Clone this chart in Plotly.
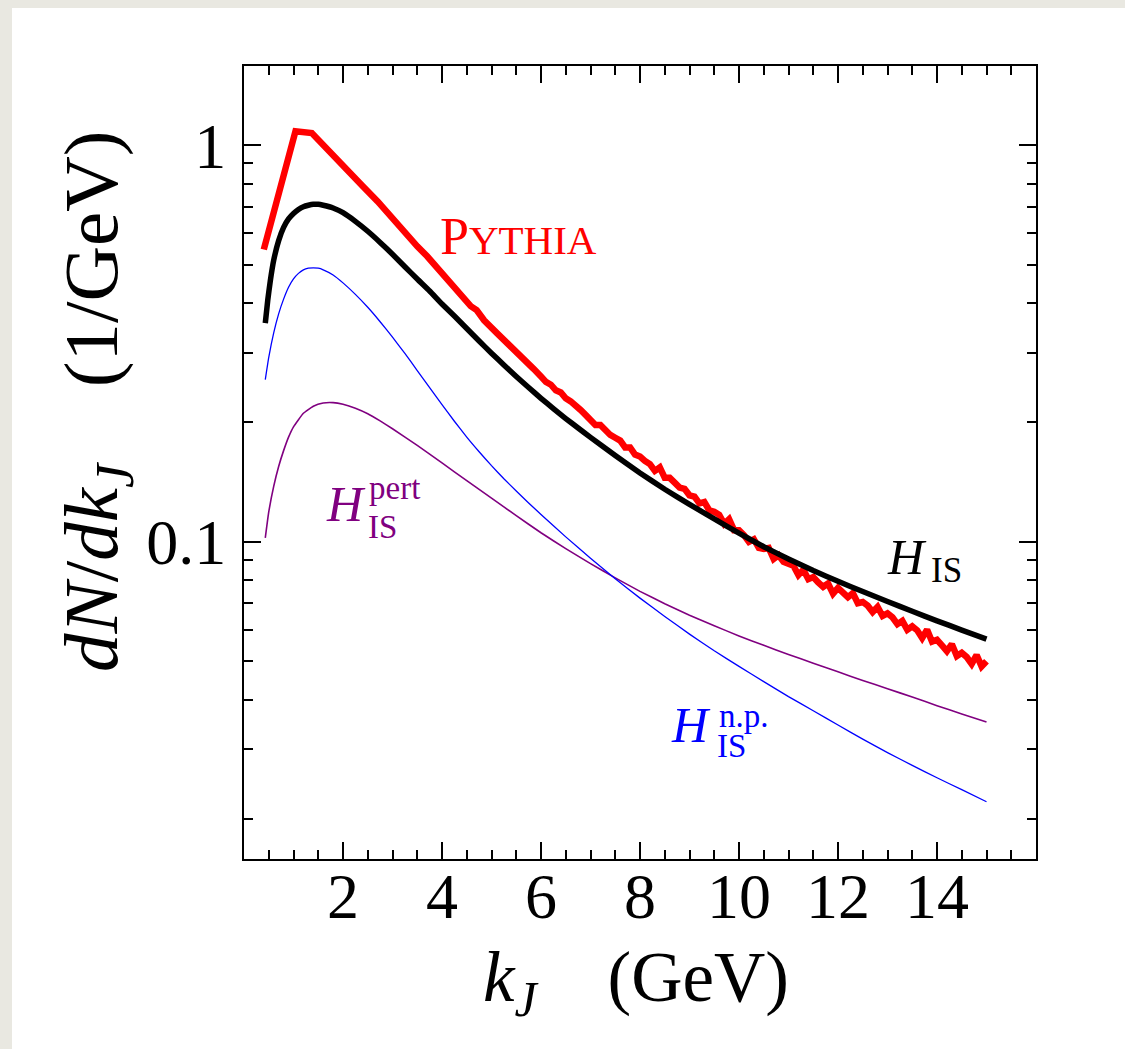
import plotly.graph_objects as go

# ---------------- data ----------------
pythia_x = [0.40, 1.04, 1.37, 1.60, 2.00, 2.40, 2.70, 2.96, 3.20, 3.50, 3.70, 3.80, 4.04, 4.30,
            4.58, 4.70, 4.85, 5.11, 5.40, 5.65, 5.85,
            6.0, 6.1, 6.2, 6.3, 6.4, 6.5, 6.6, 6.7, 6.8, 6.9, 7.0, 7.1, 7.2, 7.3, 7.4, 7.5, 7.6, 7.7,
            7.8, 7.9, 8.0, 8.1, 8.2, 8.3, 8.4, 8.5, 8.6, 8.7, 8.8, 8.9, 9.0, 9.1, 9.2, 9.3, 9.4,
            9.5, 9.6, 9.7, 9.8, 9.9, 10.0, 10.1, 10.2, 10.3, 10.4, 10.5, 10.6, 10.7, 10.8, 10.9,
            11.0, 11.1, 11.2, 11.3, 11.4, 11.5, 11.6, 11.7, 11.8, 11.9, 12.0, 12.1, 12.2, 12.3,
            12.4, 12.5, 12.6, 12.7, 12.8, 12.9, 13.0, 13.1, 13.2, 13.3, 13.4, 13.5, 13.6, 13.7,
            13.8, 13.9, 14.0, 14.1, 14.2, 14.3, 14.4, 14.5, 14.6, 14.7, 14.8, 14.9, 15.0]
pythia_y = [0.546, 1.085, 1.074, 1.000, 0.894, 0.788, 0.722, 0.662, 0.615, 0.556, 0.525, 0.508,
            0.467, 0.432, 0.393, 0.384, 0.362, 0.336, 0.311, 0.288, 0.273,
            0.261, 0.253, 0.249, 0.241, 0.238, 0.230, 0.226, 0.219, 0.215, 0.209, 0.204, 0.197,
            0.197, 0.190, 0.186, 0.183, 0.180, 0.173, 0.173, 0.166, 0.164, 0.160, 0.157, 0.151,
            0.154, 0.145, 0.145, 0.141, 0.137, 0.136, 0.131, 0.130, 0.125, 0.126, 0.120, 0.119,
            0.117, 0.111, 0.114, 0.107, 0.107, 0.104, 0.100, 0.1015, 0.0965, 0.0960, 0.0965,
            0.0905, 0.0925, 0.0890, 0.0880, 0.0870, 0.0825, 0.0850, 0.0805, 0.0815, 0.0790,
            0.0770, 0.0785, 0.0740, 0.0765, 0.0740, 0.0725, 0.0742, 0.0700, 0.0705, 0.0690,
            0.0665, 0.0685, 0.0650, 0.0660, 0.0645, 0.0620, 0.0632, 0.0600, 0.0612, 0.0598,
            0.0572, 0.0600, 0.0560, 0.0566, 0.0548, 0.0530, 0.0552, 0.0515, 0.0525, 0.0512,
            0.0492, 0.0518, 0.0485, 0.0500]

his_x = [0.43, 0.48, 0.53, 0.6, 0.7, 0.8, 0.9, 1.0, 1.1, 1.2, 1.3, 1.4, 1.5, 1.6, 1.8, 2.0,
         2.25, 2.5, 2.75, 3.0, 3.25, 3.5, 3.75, 4.0, 4.25, 4.5, 4.75, 5.0, 5.25, 5.5, 5.75, 6.0,
         6.25, 6.5, 6.75, 7.0, 7.5, 8.0, 8.5, 9.0, 9.5, 10.0, 10.5, 11.0, 11.5, 12.0, 12.5,
         13.0, 13.5, 14.0, 14.5, 15.0]
his_y = [0.356, 0.407, 0.454, 0.513, 0.575, 0.621, 0.652, 0.673, 0.689, 0.700, 0.706, 0.710,
         0.710, 0.706, 0.695, 0.676, 0.643, 0.607, 0.569, 0.531, 0.494, 0.460, 0.429, 0.398,
         0.371, 0.345, 0.321, 0.299, 0.2793, 0.2612, 0.2449, 0.2301, 0.2168, 0.2046, 0.1936,
         0.1834, 0.1650, 0.1491, 0.1357, 0.1243, 0.1142, 0.1051, 0.0972, 0.0905, 0.0846,
         0.0795, 0.0749, 0.0707, 0.0668, 0.0632, 0.0599, 0.0568]

np_x = [0.43, 0.5, 0.6, 0.7, 0.8, 0.9, 1.0, 1.1, 1.2, 1.3, 1.4, 1.5, 1.6, 1.8, 2.0, 2.25, 2.5,
        2.75, 3.0, 3.25, 3.5, 3.75, 4.0, 4.25, 4.5, 4.75, 5.0, 5.25, 5.5, 5.75, 6.0, 6.5, 7.0,
        7.5, 8.0, 8.5, 9.0, 9.5, 10.0, 10.5, 11.0, 11.5, 12.0, 12.5, 13.0, 13.5, 14.0, 14.5, 15.0]
np_y = [0.2564, 0.2917, 0.3365, 0.3758, 0.4093, 0.4385, 0.4603, 0.4753, 0.4853, 0.4898, 0.4909,
        0.4898, 0.4853, 0.4710, 0.4498, 0.4207, 0.3904, 0.3589, 0.3281, 0.2985, 0.2704, 0.2449,
        0.2218, 0.2014, 0.1837, 0.1687, 0.1556, 0.1442, 0.1343, 0.1253, 0.1172, 0.1029, 0.0909,
        0.0807, 0.0721, 0.0648, 0.0585, 0.0531, 0.0485, 0.0444, 0.0407, 0.0375, 0.0345, 0.0318,
        0.0294, 0.0273, 0.0254, 0.0237, 0.0221]

pert_x = [0.43, 0.5, 0.6, 0.7, 0.8, 0.9, 1.0, 1.2, 1.4, 1.6, 1.8, 2.0, 2.25, 2.5, 2.75, 3.0, 3.5,
          4.0, 4.5, 5.0, 5.5, 6.0, 6.5, 7.0, 7.5, 8.0, 8.5, 9.0, 9.5, 10.0, 10.5, 11.0, 11.5,
          12.0, 12.5, 13.0, 13.5, 14.0, 14.5, 15.0]
pert_y = [0.1023, 0.1189, 0.1380, 0.1549, 0.1698, 0.1837, 0.1950, 0.2109, 0.2198, 0.2239,
          0.2244, 0.2223, 0.2173, 0.2104, 0.2018, 0.1928, 0.1750, 0.1581, 0.1426, 0.1288,
          0.1164, 0.1054, 0.0961, 0.0881, 0.0811, 0.0750, 0.0698, 0.0653, 0.0614, 0.0579,
          0.0548, 0.0520, 0.0494, 0.0470, 0.0447, 0.0426, 0.0406, 0.0386, 0.0368, 0.0351]

x_tickvals = [0, 2, 4, 6, 8, 10, 12, 14, 16]
x_ticktext = ["", "2", "4", "6", "8", "10", "12", "14", ""]
y_tickvals = [0.1, 1]
y_ticktext = ["0.1", "1"]
y_minorvals = [0.02, 0.03, 0.04, 0.05, 0.06, 0.07, 0.08, 0.09,
               0.2, 0.3, 0.4, 0.5, 0.6, 0.7, 0.8, 0.9]

# ---------------- layout geometry ----------------
W, H = 1125, 1049
ML, MR, MT, MB = 244, 89, 66, 190
PW, PH = W - ML - MR, H - MT - MB
FONT = "Liberation Serif"
SP = "&nbsp;" * 4


def px2paper(px, py):
    return (px - ML) / PW, (H - MB - py) / PH


fig = go.Figure()
fig.add_trace(go.Scatter(x=pert_x, y=pert_y, mode="lines",
                         line=dict(color="#800080", width=1.6, shape="spline", smoothing=0.4)))
fig.add_trace(go.Scatter(x=np_x, y=np_y, mode="lines",
                         line=dict(color="#0000ff", width=1.3, shape="spline", smoothing=0.4)))
fig.add_trace(go.Scatter(x=pythia_x, y=pythia_y, mode="lines",
                         line=dict(color="#ff0000", width=6.5)))
fig.add_trace(go.Scatter(x=his_x, y=his_y, mode="lines",
                         line=dict(color="#000000", width=5.5, shape="spline", smoothing=0.4)))

annotations = []


def txt(text, px, py, size, color, xanchor="left", yanchor="middle", angle=0):
    xp, yp = px2paper(px, py)
    annotations.append(dict(text=text, x=xp, y=yp, xref="paper", yref="paper",
                            xanchor=xanchor, yanchor=yanchor, showarrow=False,
                            textangle=angle,
                            font=dict(family=FONT, size=size, color=color)))


# Pythia label (small caps)
txt("P<span style='font-size:41px'>YTHIA</span>", 438, 236, 52, "#ff0000")
# H_IS
txt("<i>H</i>", 885, 557, 50, "#000000")
txt("IS", 929, 570, 35, "#000000")
# H_IS^pert
txt("<i>H</i>", 324, 504, 50, "#800080")
txt("pert", 367, 488, 33, "#800080")
txt("IS", 366, 527, 33, "#800080")
# H_IS^n.p.
txt("<i>H</i>", 669, 725, 50, "#0000ff")
txt("n.p.", 717, 716, 33, "#0000ff")
txt("IS", 715, 746, 33, "#0000ff")

# axis titles
txt("<i>k<sub>J</sub></i>" + SP + "(GeV)", 636, 982, 71, "#000000", xanchor="center")
txt("<i>dN</i>/<i>dk<sub>J</sub></i>" + SP + "(1/GeV)", 97, 402, 77, "#000000",
    xanchor="center", angle=-90)

# background card
x0, y0 = px2paper(12, 8)
x1, y1 = px2paper(W + 20, H + 20)
shapes = [dict(type="rect", xref="paper", yref="paper", x0=x0, x1=x1, y0=y1, y1=y0,
               fillcolor="white", line=dict(width=0), layer="below")]

axis_common = dict(showline=True, linecolor="black", linewidth=2, mirror="allticks",
                   ticks="inside", ticklen=17, tickwidth=2, tickcolor="black",
                   showgrid=False, zeroline=False,
                   tickfont=dict(family=FONT, size=64, color="black"))

fig.update_layout(
    width=W, height=H,
    margin=dict(l=ML, r=MR, t=MT, b=MB),
    paper_bgcolor="#e9e8e1", plot_bgcolor="white",
    showlegend=False,
    annotations=annotations,
    shapes=shapes,
    xaxis=dict(range=[0, 16], tickmode="array", tickvals=x_tickvals, ticktext=x_ticktext,
               minor=dict(dtick=0.5, ticks="inside", ticklen=9, tickwidth=2, tickcolor="black"),
               ticklabelstandoff=-20, **axis_common),
    yaxis=dict(type="log", range=[-1.8, 0.2], tickmode="array", tickvals=y_tickvals,
               ticktext=y_ticktext,
               minor=dict(tickmode="array", tickvals=y_minorvals, ticks="inside", ticklen=9,
                          tickwidth=2, tickcolor="black"),
               ticklabelstandoff=3, **axis_common),
)

fig.write_html("out.html", config={"displayModeBar": False},
               post_script="document.body.style.margin='0px';")
